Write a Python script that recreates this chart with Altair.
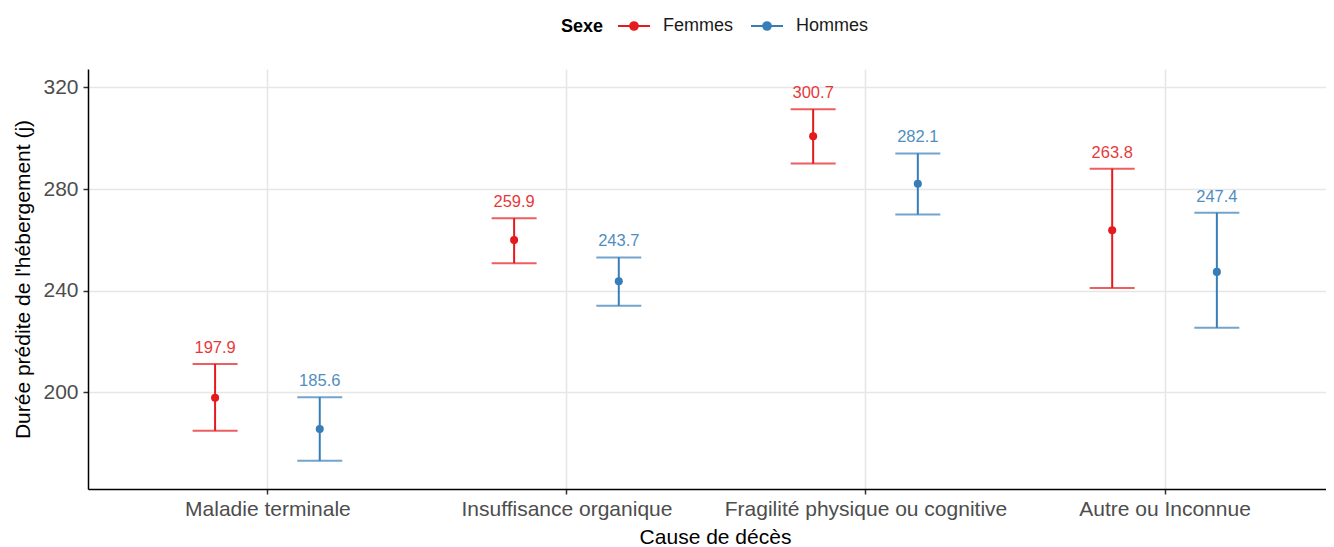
import json
import altair as alt
import pandas as pd

causes = ["Maladie terminale", "Insuffisance organique",
          "Fragilité physique ou cognitive", "Autre ou Inconnue"]
sexes = ["Femmes", "Hommes"]
colors = ["#E41A1C", "#377EB8"]

femmes_est = [197.9, 259.9, 300.7, 263.8]
femmes_lo = [184.9, 250.8, 290.0, 241.1]
femmes_hi = [211.2, 268.5, 311.4, 288.0]

hommes_est = [185.6, 243.7, 282.1, 247.4]
hommes_lo = [173.1, 234.1, 270.0, 225.4]
hommes_hi = [198.1, 253.1, 294.0, 270.7]

dodge = {"Femmes": -0.175, "Hommes": 0.175}

rows = []
for i, c in enumerate(causes):
    for s, est, lo, hi in [("Femmes", femmes_est, femmes_lo, femmes_hi),
                           ("Hommes", hommes_est, hommes_lo, hommes_hi)]:
        rows.append({"cause": c, "sexe": s, "est": est[i], "lo": lo[i],
                     "hi": hi[i], "xpos": i + 1 + dodge[s]})
df = pd.DataFrame(rows)

FONT = "Liberation Sans"
label_arr = json.dumps([""] + causes)

xscale = alt.Scale(domain=[0.4, 4.54], nice=False, zero=False)
xaxis = alt.Axis(values=[1, 2, 3, 4], labelExpr=f"{label_arr}[datum.value]",
                 grid=True, title="Cause de décès", labelLimit=600,
                 titleX=627, titleAnchor="middle")
yscale = alt.Scale(domain=[162.0, 327.2], nice=False, zero=False)
yaxis = alt.Axis(values=[200, 240, 280, 320], grid=True,
                 title="Durée prédite de l'hébergement (j)")
cscale = alt.Scale(domain=sexes, range=colors)


def X():
    return alt.X("xpos:Q", scale=xscale, axis=xaxis, title="Cause de décès")


def Y(field):
    return alt.Y(f"{field}:Q", scale=yscale, axis=yaxis,
                 title="Durée prédite de l'hébergement (j)")


def circ(r):
    return f"M{r},0A{r},{r},0,1,1,-{r},0A{r},{r},0,1,1,{r},0"


symbol_path = "M-1,0L1,0" + circ(0.05) + circ(0.12) + circ(0.19) + circ(0.24)

legend = alt.Legend(
    title="Sexe", orient="none", legendX=473, legendY=-60,
    direction="horizontal", titleOrient="left",
    titleAnchor="middle", titleBaseline="line-top", titleLineHeight=10,
    symbolType=symbol_path,
    symbolSize=1024, symbolStrokeWidth=2,
    labelFontSize=18, labelFont=FONT, labelColor="#1a1a1a",
    titleFontSize=18, titleFont=FONT, titleFontWeight="bold", titleColor="#000000",
    titlePadding=13, labelOffset=12, columnPadding=13,
)

col_legend = alt.Color("sexe:N", scale=cscale, legend=legend, title="Sexe")
col_nolegend = alt.Color("sexe:N", scale=cscale, legend=None)

base = alt.Chart(df)

rules = base.mark_rule(strokeWidth=2).encode(
    x=X(), y=Y("lo"), y2="hi:Q", color=col_legend)
caps_hi = base.mark_tick(orient="horizontal", size=45, thickness=2).encode(
    x=X(), y=Y("hi"), color=col_nolegend)
caps_lo = base.mark_tick(orient="horizontal", size=45, thickness=2).encode(
    x=X(), y=Y("lo"), color=col_nolegend)

points = base.mark_point(filled=True, size=65, opacity=1, strokeWidth=0).encode(
    x=X(), y=Y("est"), color=col_nolegend)

labels = base.mark_text(baseline="bottom", dy=-8, fontSize=16.5, font=FONT,
                        opacity=0.88).encode(
    x=X(), y=Y("hi"), text=alt.Text("est:Q", format=".1f"), color=col_nolegend)

chart = alt.layer(rules, caps_hi, caps_lo, points, labels).properties(
    width=1238, height=420,
    autosize="none",
    padding={"left": 80, "top": 61, "right": 0, "bottom": 58},
).configure(font=FONT).configure_view(stroke=None).configure_axis(
    gridColor="#E6E6E6", gridWidth=1.6,
    domainColor="#000000", domainWidth=1.5,
    tickColor="#333333", tickWidth=1.5, tickSize=5,
    labelFont=FONT, labelFontSize=21, labelColor="#4D4D4D", labelPadding=5,
    titleFont=FONT, titleFontSize=21, titleColor="#000000",
    titleFontWeight="normal",
).configure_axisX(titlePadding=7, labelPadding=4).configure_axisY(titlePadding=9)

chart.save("out.html", embed_options={"renderer": "svg", "actions": False})
